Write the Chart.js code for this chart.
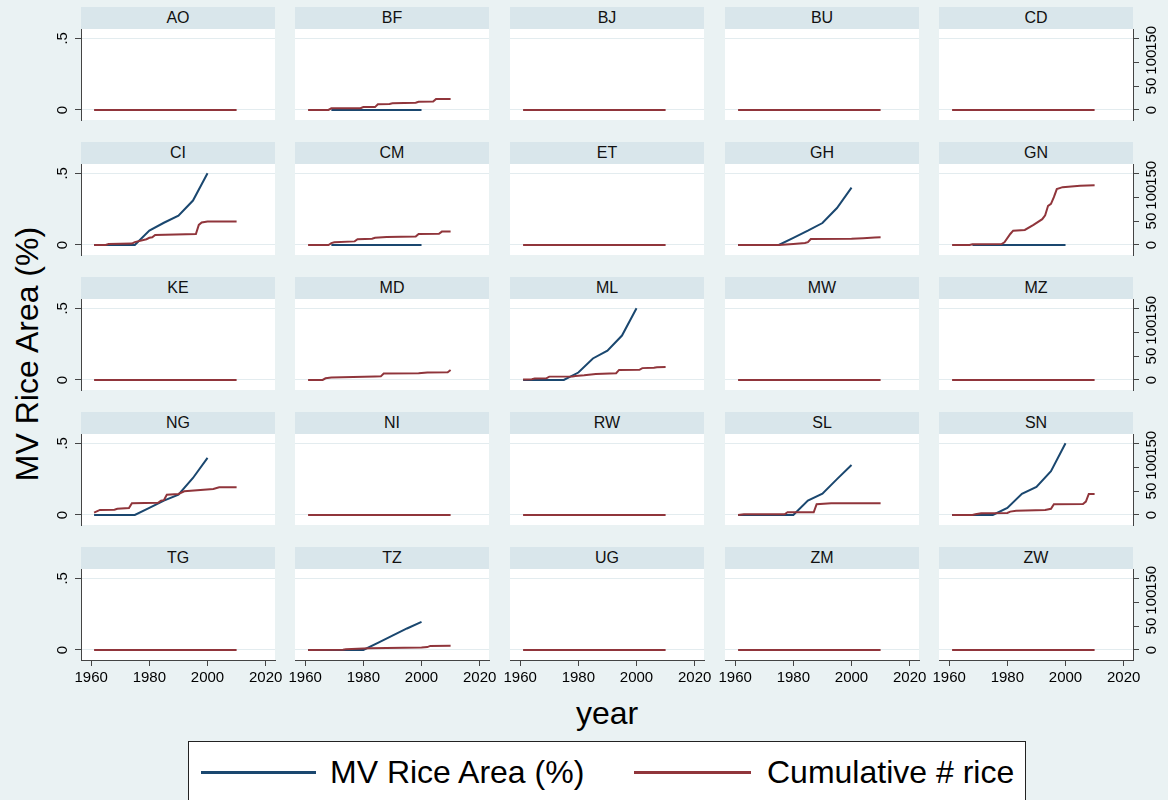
<!DOCTYPE html>
<html>
<head>
<meta charset="utf-8">
<script src="https://cdn.jsdelivr.net/npm/chart.js@4.4.1/dist/chart.umd.min.js"></script>
<style>
  body { margin: 0; background: #eaf2f3; font-family: "Liberation Sans", Arial, sans-serif; }
  #wrap { position: relative; width: 1168px; height: 800px; overflow: hidden; background: #eaf2f3; }
  .strip { position: absolute; height: 22px; line-height: 22px; background: #d9e6eb; text-align: center; font-size: 16px; color: #111; }
  canvas { position: absolute; }
  .title { position: absolute; font-size: 32px; color: #000; white-space: nowrap; }
  #legend { position: absolute; left: 188px; top: 741px; width: 838px; height: 80px; box-sizing: border-box; border: 1px solid #222; background: #fff; }
  #legend .key { position: absolute; top: 29px; height: 3px; }
  #legend .lab { position: absolute; top: 11px; font-size: 32px; line-height: 38px; white-space: nowrap; color: #000; }
</style>
</head>
<body>
<div id="wrap">
  <div class="title" style="left:27px; top:354px; transform: translate(-50%,-50%) rotate(-90deg);">MV Rice Area (%)</div>
  <div class="title" style="left:607px; top:713px; transform: translate(-50%,-50%);">year</div>
  <div id="legend">
    <div class="key" style="left:12px; width:115px; background:#1a476f;"></div>
    <div class="lab" style="left:141px;">MV Rice Area (%)</div>
    <div class="key" style="left:445px; width:117px; background:#90353b;"></div>
    <div class="lab" style="left:578px;">Cumulative # rice</div>
  </div>
</div>
<script>
// ----------------------------
// Data
// ----------------------------
const countries = ['AO','BF','BJ','BU','CD',
                   'CI','CM','ET','GH','GN',
                   'KE','MD','ML','MW','MZ',
                   'NG','NI','RW','SL','SN',
                   'TG','TZ','UG','ZM','ZW'];

// MV rice area share, [year, value] -- same order as countries
const mvArea = [
  [], [[1969,0],[2000,0]], [], [], [],
  [[1961,0],[1975,0],[1980,0.1],[1985,0.155],[1990,0.205],[1995,0.31],[2000,0.5]],
  [[1969,0],[2000,0]], [],
  [[1961,0],[1975,0],[1980,0.05],[1985,0.1],[1990,0.153],[1995,0.258],[2000,0.4]],
  [[1968,0],[2000,0]],
  [], [],
  [[1961,0],[1975,0],[1980,0.052],[1985,0.15],[1990,0.205],[1995,0.31],[2000,0.5]],
  [], [],
  [[1961,0],[1975,0],[1980,0.05],[1985,0.1],[1990,0.142],[1995,0.258],[2000,0.398]],
  [], [],
  [[1961,0],[1980,0],[1985,0.1],[1990,0.149],[1995,0.25],[2000,0.349]],
  [[1961,0],[1975,0],[1980,0.049],[1985,0.147],[1990,0.195],[1995,0.305],[2000,0.5]],
  [], [[1961,0],[1980,0],[1985,0.05],[1990,0.1],[1995,0.15],[2000,0.196]], [], [], []
];

// cumulative number of rice varieties, [year, value]
const cumRice = [
  [[1961,0],[2010,0]],
  [[1961,0],[1968,0],[1969,3.5],[1979,3.5],[1980,6],[1984,6],[1985,12],[1989,12.5],[1990,14],[1998,15],[1999,17],[2004,17.5],[2005,23],[2010,23]],
  [[1961,0],[2010,0]],
  [[1961,0],[2010,0]],
  [[1961,0],[2010,0]],
  [[1961,0],[1965,0],[1966,2],[1974,3],[1975,6],[1979,12],[1980,15],[1981,16],[1982,21],[1996,23],[1997,42],[1998,47],[2000,49],[2010,49]],
  [[1961,0],[1968,0],[1969,4],[1970,5.5],[1977,7.5],[1978,12],[1983,13],[1984,15],[1988,16.5],[1998,17.5],[1999,23],[2006,23.5],[2007,28],[2010,28]],
  [[1961,0],[2010,0]],
  [[1961,0],[1975,0],[1980,2],[1984,4],[1985,6],[1986,12.5],[2000,13],[2004,14],[2008,15.5],[2010,16]],
  [[1961,0],[1967,0],[1968,1.5],[1978,2],[1979,5.5],[1981,23],[1982,30],[1986,31.5],[1989,42],[1992,54],[1993,62],[1994,82],[1995,86],[1996,100],[1997,117],[1999,121],[2001,122],[2005,124],[2010,125]],
  [[1961,0],[2010,0]],
  [[1961,0],[1966,0],[1967,3.5],[1969,5],[1984,7],[1986,7.5],[1987,13.4],[1999,14],[2002,15.6],[2009,16.3],[2010,21]],
  [[1961,1],[1964,1.5],[1965,3],[1969,3.5],[1970,7],[1978,7.5],[1979,8.5],[1982,10],[1986,12.7],[1993,14.2],[1994,21],[2001,21.2],[2002,24.8],[2006,25.5],[2007,26.5],[2010,27]],
  [[1961,0],[2010,0]],
  [[1961,0],[2010,0]],
  [[1961,5],[1963,10.5],[1968,11],[1969,13],[1973,14.5],[1974,24.5],[1983,25.5],[1984,30],[1985,31],[1986,42.5],[1990,44],[1992,49.5],[2002,54.5],[2004,58],[2010,58]],
  [[1961,0],[2010,0]],
  [[1961,0],[2010,0]],
  [[1961,0],[1963,1.4],[1977,1.4],[1978,5.6],[1987,5.6],[1988,22.5],[1993,24.4],[2010,24.4]],
  [[1961,0],[1968,0],[1969,1.4],[1971,3.5],[1980,4.2],[1981,7],[1983,9],[1993,10.5],[1995,13],[1996,22.5],[2006,23],[2007,28],[2008,44],[2010,44]],
  [[1961,0],[2010,0]],
  [[1961,0],[1973,0.5],[1974,1.4],[1982,3.5],[2000,5],[2002,6],[2003,8.5],[2010,9]],
  [[1961,0],[2010,0]],
  [[1961,0],[2010,0]],
  [[1961,0],[2010,0]]
];

const xTicks = [1960, 1980, 2000, 2020];
const mvTicks = [0, 0.5];
const mvTickLabels = ['0', '.5'];
const cumTicks = [0, 50, 100, 150];

// ----------------------------
// Layout
// ----------------------------
const colLeft = [81, 295, 510, 725, 939];
const rowTop = [7, 142, 277, 412, 547];
const PW = 194, PH = 91, HEAD = 22;
const BLUE = '#1a476f', RED = '#90353b', AXIS = '#444', GRID = '#e3ecef';

Chart.defaults.font.family = '"Liberation Sans", Arial, sans-serif';

const plotBg = {
  id: 'plotBg',
  beforeDraw(chart) {
    const { ctx, chartArea: a } = chart;
    ctx.save();
    ctx.fillStyle = '#fff';
    ctx.fillRect(a.left, a.top, a.width, a.height);
    ctx.restore();
  }
};

const wrap = document.getElementById('wrap');

function panelOptions(r, c) {
  const first = c === 0, last = c === 4, bottom = r === 4;
  const tickFont = { size: 15 };
  return {
    responsive: false,
    animation: false,
    devicePixelRatio: 1,
    events: [],
    layout: { padding: { left: first ? 0 : 12, right: last ? 0 : 12, top: 10, bottom: bottom ? 6 : 10 } },
    plugins: { legend: { display: false }, tooltip: { enabled: false } },
    elements: { point: { radius: 0 }, line: { borderWidth: 2, tension: 0 } },
    scales: {
      x: {
        type: 'linear', min: 1956.5, max: 2023.2, display: bottom,
        afterBuildTicks: s => { s.ticks = xTicks.map(v => ({ value: v })); },
        afterFit: s => { s.height = bottom ? 30 : 0; s.paddingLeft = 0; s.paddingRight = 0; },
        grid: { drawOnChartArea: false, tickLength: 6, tickColor: AXIS },
        border: { color: AXIS },
        ticks: { autoSkip: false, maxRotation: 0, padding: 3, color: '#000', font: tickFont, callback: v => String(v) }
      },
      y: {
        type: 'linear', position: 'left', min: -0.07, max: 0.565,
        afterBuildTicks: s => { s.ticks = mvTicks.map(v => ({ value: v })); },
        afterFit: s => { s.width = first ? 72 : 0; s.paddingTop = 0; s.paddingBottom = 0; },
        grid: { color: GRID, lineWidth: 1, drawTicks: first, tickLength: 6, tickColor: AXIS },
        border: { display: first, color: AXIS },
        ticks: {
          display: first, autoSkip: false, minRotation: 90, maxRotation: 90, crossAlign: 'center',
          padding: 6, color: '#000', font: tickFont,
          callback: v => mvTickLabels[mvTicks.indexOf(v)]
        }
      },
      y1: {
        type: 'linear', position: 'right', min: -21, max: 169.5, display: last,
        afterBuildTicks: s => { s.ticks = cumTicks.map(v => ({ value: v })); },
        afterFit: s => { s.width = last ? 45 : 0; s.paddingTop = 0; s.paddingBottom = 0; },
        grid: { drawOnChartArea: false, tickLength: 6, tickColor: AXIS },
        border: { color: AXIS },
        ticks: {
          autoSkip: false, minRotation: 90, maxRotation: 90, crossAlign: 'center',
          padding: 0, color: '#000', font: tickFont, callback: v => String(v)
        }
      }
    }
  };
}

countries.forEach((name, i) => {
  const r = Math.floor(i / 5), c = i % 5;

  const strip = document.createElement('div');
  strip.className = 'strip';
  strip.style.left = colLeft[c] + 'px';
  strip.style.top = rowTop[r] + 'px';
  strip.style.width = PW + 'px';
  strip.textContent = name;
  wrap.appendChild(strip);

  const padL = c === 0 ? 72 : 12, padR = c === 4 ? 45 : 12;
  const padT = 10, padB = r === 4 ? 36 : 10;
  const cv = document.createElement('canvas');
  cv.width = padL + PW + padR;
  cv.height = padT + PH + padB;
  cv.style.left = (colLeft[c] - padL) + 'px';
  cv.style.top = (rowTop[r] + HEAD - padT) + 'px';
  wrap.appendChild(cv);

  new Chart(cv, {
    type: 'line',
    data: {
      datasets: [
        { label: 'Cumulative # rice', data: cumRice[i], yAxisID: 'y1', borderColor: RED },
        { label: 'MV Rice Area (%)', data: mvArea[i], yAxisID: 'y', borderColor: BLUE }
      ]
    },
    options: panelOptions(r, c),
    plugins: [plotBg]
  });
});
</script>
</body>
</html>
